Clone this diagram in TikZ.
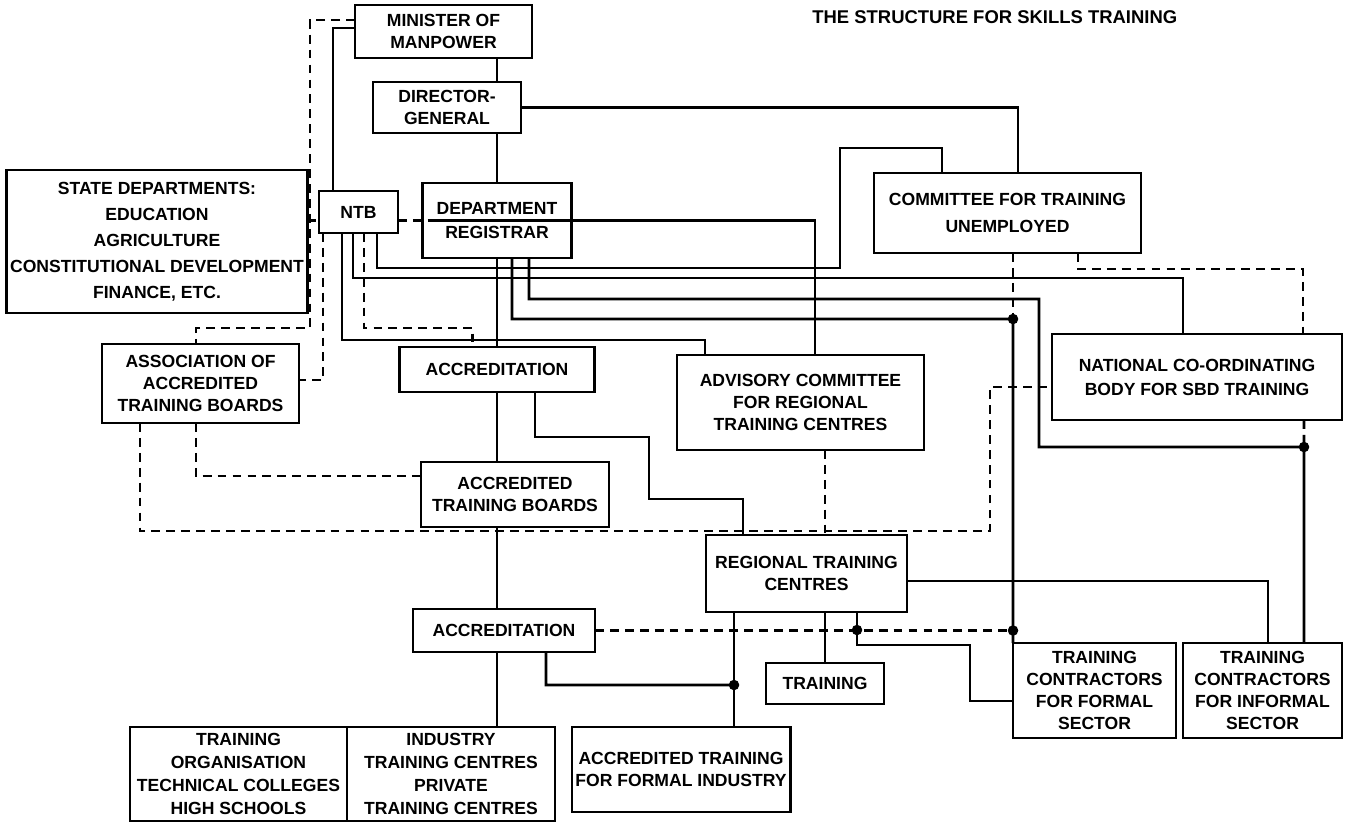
\documentclass[tikz,border=0pt]{standalone}
\usepackage{fontspec}
\setmainfont{Liberation Sans}
\usetikzlibrary{calc}
\tikzset{
  orgbox/.style={
    rectangle, draw=black, line width=1.6pt,
    inner sep=2pt, outer sep=0pt, align=center,
    font=\fontsize{10}{12.5}\selectfont\bfseries
  },
  titletext/.style={
    font=\fontsize{10.5}{12}\selectfont\bfseries, inner sep=0pt
  },
  link/.style={line width=1.5pt},
  dashlink/.style={line width=1.5pt, dash pattern=on 5pt off 3.5pt},
}

\begin{document}
\begin{tikzpicture}[x=0.02cm, y=-0.02cm]
  \useasboundingbox (0,0) rectangle (1349,823);

  % Title
  \node[titletext, anchor=west] (title) at (812,17) {THE STRUCTURE FOR SKILLS TRAINING};

  % Top of the chain
  \node[orgbox, minimum width=3.54cm, minimum height=1.06cm] (minister) at (443.5,31.5) {MINISTER OF\\MANPOWER};
  \node[orgbox, minimum width=2.96cm, minimum height=1.02cm] (dg) at (447,107.5) {DIRECTOR-\\GENERAL};
  \node[orgbox, minimum width=2.98cm, minimum height=1.5cm] (dept) at (497,220.5) {DEPARTMENT\\[1pt]REGISTRAR};
  \node[orgbox, minimum width=1.58cm, minimum height=0.84cm] (ntb) at (358.5,212) {NTB};
  \node[orgbox, minimum width=6cm, minimum height=2.86cm, font=\fontsize{10}{14.8}\selectfont\bfseries] (state) at (157,241.5)
    {STATE DEPARTMENTS:\\EDUCATION\\AGRICULTURE\\CONSTITUTIONAL DEVELOPMENT\\FINANCE, ETC.};
  \node[orgbox, minimum width=5.34cm, minimum height=1.6cm, font=\fontsize{10}{15.4}\selectfont\bfseries] (committee) at (1007.5,213) {COMMITTEE FOR TRAINING\\UNEMPLOYED};
  \node[orgbox, minimum width=5.8cm, minimum height=1.72cm, font=\fontsize{10}{13.7}\selectfont\bfseries] (national) at (1197,377) {NATIONAL CO-ORDINATING\\BODY FOR SBD TRAINING};

  % Middle row
  \node[orgbox, minimum width=3.94cm, minimum height=1.58cm] (assoc) at (200.5,383.5) {ASSOCIATION OF\\ACCREDITED\\TRAINING BOARDS};
  \node[orgbox, minimum width=3.9cm, minimum height=0.9cm] (accr1) at (497,369.5) {ACCREDITATION};
  \node[orgbox, minimum width=4.94cm, minimum height=1.9cm] (advisory) at (800.5,402.5) {ADVISORY COMMITTEE\\FOR REGIONAL\\TRAINING CENTRES};
  \node[orgbox, minimum width=3.76cm, minimum height=1.3cm] (atb) at (515,494.5) {ACCREDITED\\TRAINING BOARDS};
  \node[orgbox, minimum width=4.02cm, minimum height=1.54cm] (rtc) at (806.5,573.5) {REGIONAL TRAINING\\CENTRES};

  % Lower rows
  \node[orgbox, minimum width=3.64cm, minimum height=0.86cm] (accr2) at (504,630.5) {ACCREDITATION};
  \node[orgbox, minimum width=2.36cm, minimum height=0.82cm] (training) at (825,683.5) {TRAINING};
  \node[orgbox, minimum width=3.26cm, minimum height=1.9cm] (tcformal) at (1094.5,690.5) {TRAINING\\CONTRACTORS\\FOR FORMAL\\SECTOR};
  \node[orgbox, minimum width=3.18cm, minimum height=1.9cm] (tcinformal) at (1262.5,690.5) {TRAINING\\CONTRACTORS\\FOR INFORMAL\\SECTOR};
  \node[orgbox, minimum width=3.8cm, minimum height=1.7cm] (atfi) at (681,769.5) {ACCREDITED TRAINING\\FOR FORMAL INDUSTRY};
  \node[orgbox, minimum width=4.34cm, minimum height=1.88cm, font=\fontsize{10}{13}\selectfont\bfseries] (torg) at (238.5,774) {TRAINING\\ORGANISATION\\TECHNICAL COLLEGES\\HIGH SCHOOLS};
  \node[orgbox, minimum width=4.16cm, minimum height=1.88cm, font=\fontsize{10}{13}\selectfont\bfseries] (industry) at (451,774) {INDUSTRY\\TRAINING CENTRES\\PRIVATE\\TRAINING CENTRES};

  % Junctions
  \coordinate (jc) at ($(tcformal.north west)+(0,-324)$);
  \coordinate (jt) at (tcformal.north west |- accr2.east);
  \coordinate (jr) at ($(rtc.south)+(50.5,18)$);
  \coordinate (jn) at ($(tcinformal.north)+(41.5,-196)$);
  \coordinate (jf) at ($(rtc.south)+(-72.5,73)$);

  % Solid lines
  \draw[link] (minister.south -| dept) -- (dg.north -| dept);
  \draw[link] (dg.south -| dept) -- (dept.north);
  \draw[link] (dg.east) -| ($(committee.north)+(10.5,0)$);
  \draw[link] ($(minister.west)+(0,-3.5)$) -| ($(ntb.north)+(-25.5,0)$);
  \draw[link] ($(ntb.south)+(18.5,0)$) -- ++(0,35) -| (840,148) -| ($(committee.north)+(-65.5,0)$);
  \draw[link] ($(ntb.south)+(-5.5,0)$) -- ++(0,45) -| ($(national.north)+(-14,0)$);
  \draw[link] ($(ntb.south)+(-16.5,0)$) -- ++(0,107) -| ($(advisory.north)+(-95.5,0)$);
  \draw[link] ($(dept.west)+(5,0)$) -- (dept.east) -| ($(advisory.north)+(14.5,0)$);
  \draw[link] (dept.south) -- (accr1.north);
  \draw[link] ($(dept.south)+(15,0)$) -- ++(0,61) -- (jc) -- (tcformal.north west);
  \draw[link] ($(dept.south)+(32,0)$) -- ++(0,41) -| (1039,447) -- (jn) -- ($(tcinformal.north)+(41.5,0)$);
  \draw[link] (accr1.south) -- (atb.north -| accr1);
  \draw[link] ($(accr1.south)+(38,0)$) -- ++(0,45) -| (649,499) -| ($(rtc.north)+(-63.5,0)$);
  \draw[link] (atb.south -| accr1) -- (accr2.north -| accr1);
  \draw[link] (accr2.south -| accr1) -- (industry.north -| accr1);
  \draw[link] ($(accr2.south)+(42,0)$) -- ++(0,33) -- (jf);
  \draw[link] ($(rtc.south)+(-72.5,0)$) -- ($(atfi.north)+(53,0)$);
  \draw[link] (rtc.south -| training) -- (training.north);
  \draw[link] ($(rtc.south)+(50.5,0)$) -- ++(0,33) -| ($(tcformal.west)+(-43,10.5)$) -- ($(tcformal.west)+(0,10.5)$);
  \draw[link] ($(rtc.east)+(0,7.5)$) -| ($(tcinformal.north)+(5.5,0)$);

  % Dashed lines
  \draw[dashlink] ($(minister.west)+(0,-11.5)$) -- ++(-45,0) |- ($(assoc.north)+(-4.5,-16)$) -- ($(assoc.north)+(-4.5,0)$);
  \draw[dashlink] (state.east |- dept) -- (ntb.west |- dept);
  \draw[dashlink] (ntb.east |- dept) -- (dept.west);
  \draw[dashlink] ($(ntb.south)+(-35.5,0)$) |- ($(assoc.east)+(0,-3.5)$);
  \draw[dashlink] ($(ntb.south)+(5.5,0)$) -- ++(0,95) -| ($(accr1.north)+(-24.5,0)$);
  \draw[dashlink] (committee.south -| jc) -- (jc);
  \draw[dashlink] ($(committee.south)+(70.5,0)$) -- ++(0,16) -| ($(national.north)+(106,0)$);
  \draw[dashlink] ($(national.south)+(107,0)$) -- (jn);
  \draw[dashlink] ($(assoc.south)+(-4.5,0)$) |- ($(atb.west)+(0,-18.5)$);
  \draw[dashlink] ($(assoc.south)+(-60.5,0)$) -- ++(0,108) -| ($(national.west)+(-62,10)$) -- ($(national.west)+(0,10)$);
  \draw[dashlink] ($(advisory.south)+(24.5,0)$) -- ($(rtc.north)+(18.5,0)$);
  \draw[dashlink] (accr2.east) -- (jt);

  % Junction dots
  \foreach \j in {jc,jt,jr,jn,jf}
    \fill (\j) circle (3pt);
\end{tikzpicture}
\end{document}
